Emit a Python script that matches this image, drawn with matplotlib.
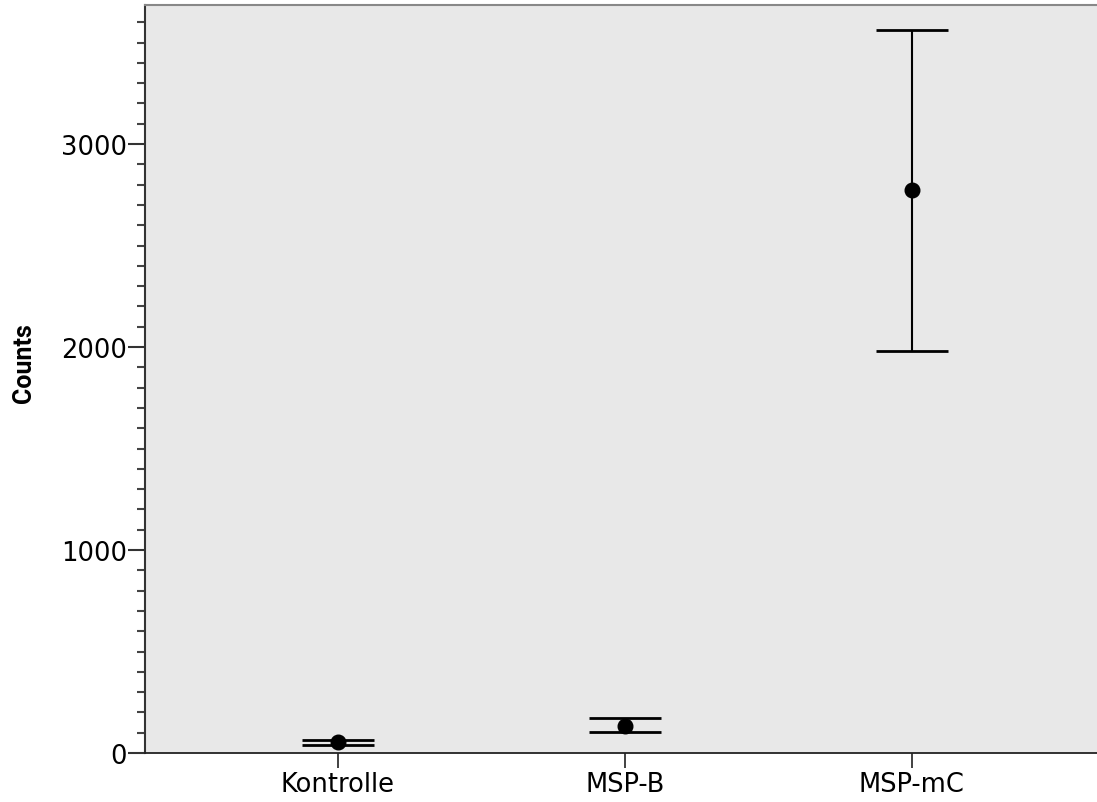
import matplotlib
matplotlib.use("Agg")
import matplotlib.pyplot as plt
from matplotlib.ticker import MultipleLocator

categories = ["Kontrolle", "MSP-B", "MSP-mC"]
means = [54, 134, 2773]
upper = [64, 171, 3562]
lower = [40, 102, 1980]

fig = plt.figure(figsize=(10.97, 8.03), dpi=100)
ax = fig.add_axes([145/1097, 1 - 754/803, (1097-145)/1097, (754-6)/803])
ax.set_facecolor("#e8e8e8")

x = list(range(len(categories)))
yerr = [[m - l for m, l in zip(means, lower)], [u - m for u, m in zip(upper, means)]]
ax.errorbar(x, means, yerr=yerr, fmt="o", color="black", markersize=10.5,
            ecolor="black", elinewidth=1.5, capsize=26, capthick=2)

ax.set_xlim(-0.6725, 2.645)
ax.set_ylim(0, 3685)
ax.set_xticks(x)
ax.set_xticklabels(categories, fontsize=18.5, family="DejaVu Sans")
for lbl in ax.get_yticklabels():
    lbl.set_family("DejaVu Sans")
ax.yaxis.set_major_locator(MultipleLocator(1000))
ax.yaxis.set_minor_locator(MultipleLocator(100))
ax.tick_params(axis="y", which="major", length=12, width=1.5, labelsize=18.5, color="#333333", pad=1)
ax.tick_params(axis="y", which="minor", length=6, width=1.5, color="#444444")
ax.tick_params(axis="x", which="major", length=11, width=1.3, labelsize=18.5, color="#333333", pad=2)
ax.set_ylabel("Counts", fontsize=18, fontweight="bold", family="Roboto")
ax.yaxis.set_label_coords(-0.114, 0.522)

ax.spines["left"].set_color("#333333")
ax.spines["left"].set_linewidth(1.5)
ax.spines["bottom"].set_color("#222222")
ax.spines["bottom"].set_linewidth(1.3)
ax.spines["top"].set_color("#888888")
ax.spines["top"].set_linewidth(1.5)
ax.spines["right"].set_visible(False)

fig.savefig("out.png", dpi=100)
